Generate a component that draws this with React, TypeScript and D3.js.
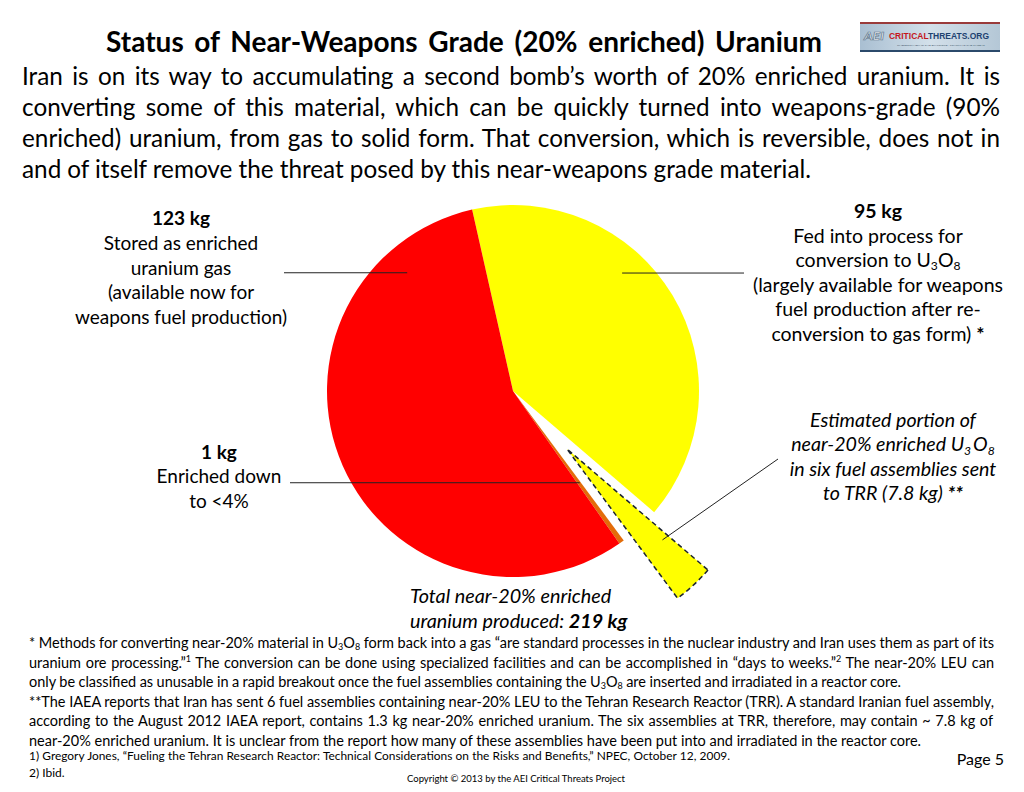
import { useLayoutEffect, useRef } from "react";
import * as d3 from "d3";

// ---- data -------------------------------------------------------------
// slices run clockwise from the red/yellow boundary near 12 o'clock
const sliceKeys = ["u3o8", "trr", "downblend", "gas"];
const sliceValues = [87.2, 7.8, 1, 123]; // kg (87.2 + 7.8 = 95 fed into U3O8)
const sliceColors = ["#FFFF00", "#FFFF00", "#E36C0A", "#FF0000"];
const explodedKey = "trr";
const totalKg = d3.sum(sliceValues); // 219

const TITLE = "Status of Near-Weapons Grade (20% enriched) Uranium";

const introLines = [
  "Iran is on its way to accumulating a second bomb’s worth of 20% enriched uranium. It is",
  "converting some of this material, which can be quickly turned into weapons-grade (90%",
  "enriched) uranium, from gas to solid form. That conversion, which is reversible, does not in",
  "and of itself remove the threat posed by this near-weapons grade material.",
];
const introWidths = [978, 978, 978, 789];

// "|" toggles bold, "_x" subscript, "^x" superscript
const gasLabel = ["|123 kg|", "Stored as enriched", "uranium gas", "(available now for", "weapons fuel production)"];
const downLabel = ["|1 kg|", "Enriched down", "to <4%"];
const u3o8Label = [
  "|95 kg|",
  "Fed into process for",
  "conversion to U_3O_8",
  "(largely available for weapons",
  "fuel production after re-",
  "conversion to gas form) |*|",
];
const trrLabel = ["Estimated portion of", "near-20% enriched U_3O_8", "in six fuel assemblies sent", "to TRR (7.8 kg) |**|"];
const totalLabel = ["Total near-20% enriched", `uranium produced: |${totalKg} kg|`];

const noteLines = [
  "* Methods for converting near-20% material in U_3O_8 form back into a gas “are standard processes in the nuclear industry and Iran uses them as part of its",
  "uranium ore processing.”^1 The conversion can be done using specialized facilities and can be accomplished in “days to weeks.”^2 The near-20% LEU can",
  "only be classified as unusable in a rapid breakout once the fuel assemblies containing the U_3O_8 are inserted and irradiated in a reactor core.",
  "**The IAEA reports that Iran has sent 6 fuel assemblies containing near-20% LEU to the Tehran Research Reactor (TRR). A standard Iranian fuel assembly,",
  "according to the August 2012 IAEA report, contains 1.3 kg near-20% enriched uranium. The six assemblies at TRR, therefore, may contain ~ 7.8 kg of",
  "near-20% enriched uranium. It is unclear from the report how many of these assemblies have been put into and irradiated in the reactor core.",
];
const noteWidths = [965, 965, 872, 965, 964, 892];
const refLines = [
  "1) Gregory Jones, “Fueling the Tehran Research Reactor: Technical Considerations on the Risks and Benefits,” NPEC, October 12, 2009.",
  "2) Ibid.",
];

// ---- layout -----------------------------------------------------------
const W = 1024;
const H = 792;
const CX = 513;
const CY = 391;
const R = 186;
const EXPLODE = 79;
const START = (-12.7 * Math.PI) / 180;
const FONT = "Lato, 'Open Sans', sans-serif";

type Seg = { t: string; b: boolean; sub: boolean; sup: boolean };

function parse(s: string): Seg[] {
  const out: Seg[] = [];
  let bold = false;
  let buf = "";
  const flush = () => {
    if (buf) out.push({ t: buf, b: bold, sub: false, sup: false });
    buf = "";
  };
  for (let i = 0; i < s.length; i++) {
    const c = s[i];
    if (c === "|") {
      flush();
      bold = !bold;
    } else if (c === "_" || c === "^") {
      flush();
      out.push({ t: s[i + 1], b: bold, sub: c === "_", sup: c === "^" });
      i++;
    } else buf += c;
  }
  flush();
  return out;
}

// justify: stretch word spacing so the line ends at x + justify
function Rich({
  x,
  y,
  text,
  size,
  anchor = "start",
  justify,
  italic,
  weight,
}: {
  x: number;
  y: number;
  text: string;
  size: number;
  anchor?: string;
  justify?: number;
  italic?: boolean;
  weight?: string;
}) {
  const ref = useRef<SVGTextElement>(null);
  useLayoutEffect(() => {
    const el = ref.current;
    if (!el || !justify) return;
    el.style.wordSpacing = "0px";
    const natural = el.getComputedTextLength();
    const spaces = (text.match(/ /g) || []).length;
    if (spaces > 0) el.style.wordSpacing = `${(justify - natural) / spaces}px`;
  }, [text, justify, size]);

  let shift = 0;
  let prevSub = false;
  const spans = parse(text).map((s, k) => {
    const target = s.sub ? size * 0.16 : s.sup ? -size * 0.4 : 0;
    const dy = target - shift;
    shift = target;
    const dx = italic && prevSub ? size * 0.1 : undefined;
    prevSub = s.sub;
    return (
      <tspan
        key={k}
        dx={dx}
        dy={dy !== 0 ? dy : undefined}
        fontWeight={s.b ? "bold" : undefined}
        fontSize={s.sub || s.sup ? size * 0.62 : undefined}
      >
        {s.t}
      </tspan>
    );
  });
  return (
    <text
      ref={ref}
      x={x}
      y={y}
      fontSize={size}
      textAnchor={anchor}
      fontStyle={italic ? "italic" : undefined}
      fontWeight={weight}
      fill="#000"
    >
      {spans}
    </text>
  );
}

function Block({
  lines,
  x,
  y,
  step,
  size,
  anchor = "middle",
  italic,
}: {
  lines: string[];
  x: number;
  y: number;
  step: number;
  size: number;
  anchor?: string;
  italic?: boolean;
}) {
  return (
    <g>
      {lines.map((l, i) => (
        <Rich key={i} x={x} y={y + i * step} text={l} size={size} anchor={anchor} italic={italic} />
      ))}
    </g>
  );
}

export default function App() {
  const pie = d3
    .pie<number>()
    .sort(null)
    .startAngle(START)
    .endAngle(START + 2 * Math.PI);
  const arcs = pie(sliceValues);
  const arc = d3.arc<d3.PieArcDatum<number>>().innerRadius(0).outerRadius(R);

  const offset = (a: d3.PieArcDatum<number>, i: number) => {
    if (sliceKeys[i] !== explodedKey) return [0, 0];
    const mid = (a.startAngle + a.endAngle) / 2;
    return [EXPLODE * Math.sin(mid), -EXPLODE * Math.cos(mid)];
  };

  // point inside a slice: fraction along its angle, fraction of radius
  const pointIn = (key: string, frac: number, rf: number) => {
    const i = sliceKeys.indexOf(key);
    const a = arcs[i];
    const ang = a.startAngle + frac * (a.endAngle - a.startAngle);
    const [ox, oy] = offset(a, i);
    return [CX + ox + rf * R * Math.sin(ang), CY + oy - rf * R * Math.cos(ang)];
  };

  const pGas = pointIn("gas", 0.856, 0.853);
  const pU3o8 = pointIn("u3o8", 0.387, 0.864);
  const pDown = pointIn("downblend", 0.3, 0.61);
  const pTrr = pointIn("trr", 0.23, 0.71);

  const leaders = [
    [pGas[0], pGas[1], 284, pGas[1]],
    [pU3o8[0], pU3o8[1], 744, pU3o8[1]],
    [pDown[0], pDown[1], 290, pDown[1]],
    [pTrr[0], pTrr[1], 778, 459],
  ];

  return (
    <div style={{ position: "absolute", left: 0, top: 0 }}>
      <svg width={W} height={H} fontFamily={FONT} style={{ display: "block", background: "#fff" }}>
        <defs>
          <linearGradient id="logoBg" x1="0" y1="0" x2="1" y2="0">
            <stop offset="0" stopColor="#a9bfd2" />
            <stop offset="0.5" stopColor="#d3e0ea" />
            <stop offset="1" stopColor="#b4c7d6" />
          </linearGradient>
        </defs>

        {/* title */}
        <Rich x={106} y={52} text={TITLE} size={28} weight="bold" justify={716} />

        {/* logo */}
        <g>
          <rect x={860} y={22} width={140} height={30} fill="url(#logoBg)" />
          <rect x={860} y={22} width={140} height={2} fill="#9a3b3b" />
          <rect x={860} y={50} width={140} height={2} fill="#2b4a6b" />
          <text
            x={864}
            y={40}
            fontSize={11}
            fontStyle="italic"
            fontWeight="bold"
            fill="#eef3f7"
            stroke="#5f768b"
            strokeWidth={0.6}
            textLength={20}
            lengthAdjust="spacingAndGlyphs"
          >
            AEI
          </text>
          <text
            x={889}
            y={39}
            fontSize={9}
            fontWeight="bold"
            fontFamily="'Liberation Sans', sans-serif"
            textLength={100}
            lengthAdjust="spacingAndGlyphs"
          >
            <tspan fill="#c4161c">CRITICAL</tspan>
            <tspan fill="#1d4270">THREATS.ORG</tspan>
          </text>
          <text x={897} y={46} fontSize={2.6} fill="#44576a" textLength={88} lengthAdjust="spacingAndGlyphs">
            UNDERSTANDING THE DIALOGUE · TRACKING THE THREAT
          </text>
        </g>

        {/* intro paragraph */}
        {introLines.map((l, i) => (
          <Rich key={i} x={22} y={85 + i * 31} text={l} size={24.3} justify={introWidths[i]} />
        ))}

        {/* pie */}
        <g transform={`translate(${CX},${CY})`}>
          {arcs.map((a, i) => {
            const [ox, oy] = offset(a, i);
            const exploded = sliceKeys[i] === explodedKey;
            return (
              <path
                key={sliceKeys[i]}
                d={arc(a) || ""}
                transform={`translate(${ox},${oy})`}
                fill={sliceColors[i]}
                stroke={exploded ? "#1c2430" : "none"}
                strokeWidth={exploded ? 1.5 : 0}
                strokeDasharray={exploded ? "5,3.5" : undefined}
              />
            );
          })}
        </g>

        {/* leader lines */}
        {leaders.map((l, i) => (
          <line key={i} x1={l[0]} y1={l[1]} x2={l[2]} y2={l[3]} stroke="#222" strokeWidth={1} />
        ))}

        {/* slice labels */}
        <Block lines={gasLabel} x={181} y={225} step={24.8} size={19} />
        <Block lines={downLabel} x={219} y={459} step={24.3} size={19} />
        <Block lines={u3o8Label} x={878} y={218} step={24.6} size={19.5} />
        <Block lines={trrLabel} x={893} y={427} step={24.4} size={19.6} italic />
        <Block lines={totalLabel} x={410} y={603} step={24.5} size={19.8} anchor="start" italic />

        {/* footnotes */}
        {noteLines.map((l, i) => (
          <Rich key={i} x={29} y={648 + i * 19.5} text={l} size={14.5} justify={noteWidths[i]} />
        ))}
        <Rich x={29} y={760} text={refLines[0]} size={11.9} justify={701} />
        <Rich x={29} y={777} text={refLines[1]} size={12} />

        <text x={1004} y={765} fontSize={16} textAnchor="end">
          Page 5
        </text>
        <text x={407} y={782} fontSize={9.5} textLength={218} lengthAdjust="spacing">
          Copyright © 2013 by the AEI Critical Threats Project
        </text>
      </svg>
    </div>
  );
}
